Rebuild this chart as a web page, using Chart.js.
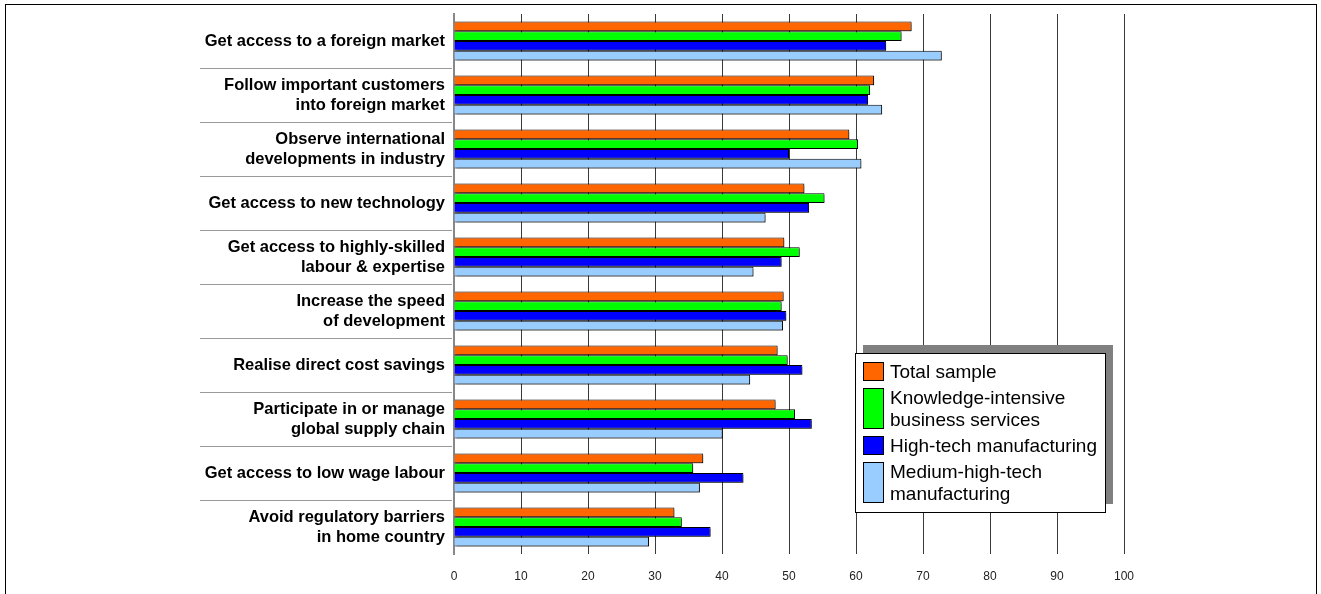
<!DOCTYPE html>
<html>
<head>
<meta charset="utf-8">
<script src="https://cdn.jsdelivr.net/npm/chart.js@4/dist/chart.umd.min.js"></script>
<style>
  html, body { margin: 0; padding: 0; background: #fff; overflow: hidden; }
  #frame {
    position: absolute; left: 5px; top: 4px; width: 1312px; height: 640px;
    border: 1px solid #000; box-sizing: border-box; pointer-events: none;
  }
  #motives { position: absolute; left: 0; top: 0; }
</style>
</head>
<body>
<canvas id="motives" width="1321" height="594"></canvas>
<div id="frame"></div>
<script>
/* ── data ─────────────────────────────────────────────── */
const motives = [
    ["Get access to a foreign market"],
    ["Follow important customers", "into foreign market"],
    ["Observe international", "developments in industry"],
    ["Get access to new technology"],
    ["Get access to highly-skilled", "labour & expertise"],
    ["Increase the speed", "of development"],
    ["Realise direct cost savings"],
    ["Participate in or manage", "global supply chain"],
    ["Get access to low wage labour"],
    ["Avoid regulatory barriers", "in home country"],
];

const seriesNames = [
    ["Total sample"],
    ["Knowledge-intensive", "business services"],
    ["High-tech manufacturing"],
    ["Medium-high-tech", "manufacturing"],
];

const totalSample  = [68.3, 62.7, 59.0, 52.3, 49.3, 49.2, 48.3, 48.0, 37.2, 32.9];
const kibs         = [66.8, 62.1, 60.3, 55.3, 51.6, 48.9, 49.8, 50.9, 35.7, 34.0];
const highTech     = [64.5, 61.8, 50.0, 53.0, 48.9, 49.6, 52.0, 53.4, 43.2, 38.3];
const mediumHigh   = [72.8, 63.9, 60.8, 46.5, 44.7, 49.1, 44.2, 40.1, 36.7, 29.1];

const xTicks = [0, 10, 20, 30, 40, 50, 60, 70, 80, 90, 100];

const seriesColors = ["#FF6600", "#00FF00", "#0000FF", "#99CCFF"];
const FONT = "Arial, 'Liberation Sans', sans-serif";

/* ── plugins ──────────────────────────────────────────── */
// grey rules between category labels, left of the axis
const categoryRules = {
    id: "categoryRules",
    afterDraw(chart) {
        const { ctx } = chart;
        const y = chart.scales.y;
        ctx.save();
        ctx.strokeStyle = "#999";
        ctx.lineWidth = 1;
        for (let i = 1; i < motives.length; i++) {
            const py = Math.round((y.getPixelForValue(i - 1) + y.getPixelForValue(i)) / 2) + 0.5;
            ctx.beginPath();
            ctx.moveTo(200, py);
            ctx.lineTo(452, py);
            ctx.stroke();
        }
        ctx.restore();
    },
};

// thin flat shadow under the bars
const barShadow = {
    id: "barShadow",
    beforeDatasetsDraw(chart) {
        const { ctx } = chart;
        ctx.save();
        ctx.shadowColor = "rgba(0,0,0,0.35)";
        ctx.shadowOffsetX = 2;
        ctx.shadowOffsetY = 2;
        ctx.shadowBlur = 0;
    },
    afterDatasetsDraw(chart) {
        chart.ctx.restore();
    },
};

// boxed legend with a flat grey drop shadow
const boxLegend = {
    id: "boxLegend",
    afterDraw(chart) {
        const { ctx } = chart;
        const left = 855, top = 353, w = 250, h = 159, shadow = 8;
        ctx.save();
        ctx.fillStyle = "#808080";
        ctx.fillRect(left + shadow, top - shadow, w, h);
        ctx.fillStyle = "#fff";
        ctx.fillRect(left, top, w, h);
        ctx.strokeStyle = "#000";
        ctx.lineWidth = 1;
        ctx.strokeRect(left + 0.5, top + 0.5, w, h);

        ctx.font = `19px ${FONT}`;
        ctx.textBaseline = "middle";
        const lineH = 22, gap = 4;
        let y = top + 8;
        chart.data.datasets.forEach((ds, i) => {
            const lines = seriesNames[i];
            const boxH = lines.length * lineH;
            ctx.fillStyle = ds.backgroundColor;
            ctx.fillRect(left + 8, y + 1, 20, boxH - 4);
            ctx.strokeStyle = "#000";
            ctx.strokeRect(left + 8.5, y + 1.5, 20, boxH - 4);
            ctx.fillStyle = "#000";
            lines.forEach((t, k) => ctx.fillText(t, left + 35, y + lineH * k + lineH / 2 + 1));
            y += boxH + gap;
        });
        ctx.restore();
    },
};

/* ── chart ────────────────────────────────────────────── */
const datasets = [totalSample, kibs, highTech, mediumHigh].map((data, i) => ({
    label: seriesNames[i].join(" "),
    data,
    backgroundColor: seriesColors[i],
    borderColor: "#000",
    borderWidth: 1,
    borderSkipped: "start",
    categoryPercentage: 0.72,
    barPercentage: 1.0,
}));

new Chart(document.getElementById("motives"), {
    type: "bar",
    data: { labels: motives, datasets },
    options: {
        indexAxis: "y",
        responsive: false,
        animation: false,
        devicePixelRatio: 1,
        layout: { padding: { left: 0, top: 14, right: 197, bottom: 0 } },
        plugins: {
            legend: { display: false },
            tooltip: { enabled: false },
        },
        scales: {
            x: {
                min: 0,
                max: 100,
                afterBuildTicks: s => { s.ticks = xTicks.map(v => ({ value: v })); },
                afterFit: s => { s.height = 40; s.paddingLeft = 0; s.paddingRight = 0; },
                grid: {
                    drawTicks: false,
                    color: ctx => (ctx.tick && ctx.tick.value === 0 ? "rgba(0,0,0,0)" : "#3a3a3a"),
                    lineWidth: 1,
                },
                border: { display: false },
                ticks: {
                    padding: 15,
                    color: "#222",
                    font: { family: FONT, size: 12 },
                },
            },
            y: {
                afterFit: s => { s.width = 454; s.paddingTop = 0; s.paddingBottom = 0; },
                grid: { display: false, drawTicks: false },
                border: { display: true, color: "#888", width: 2 },
                ticks: {
                    padding: 9,
                    color: "#000",
                    font: { family: FONT, size: 16.5, weight: "bold", lineHeight: 20 / 16.5 },
                },
            },
        },
    },
    plugins: [categoryRules, barShadow, boxLegend],
});
</script>
</body>
</html>
